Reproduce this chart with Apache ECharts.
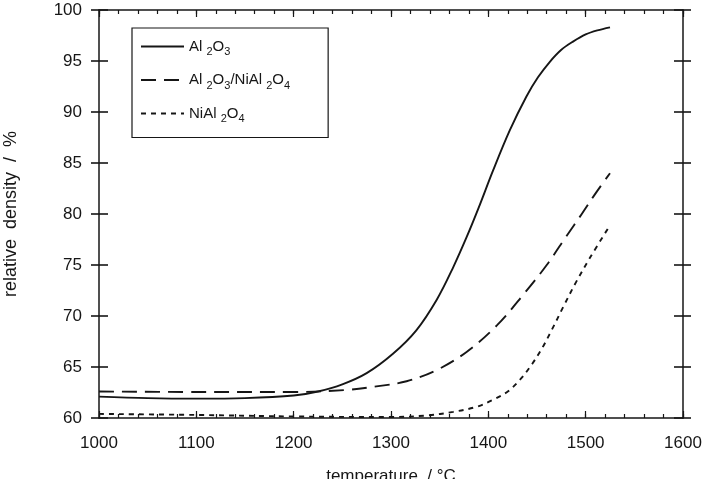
<!DOCTYPE html>
<html>
<head>
<meta charset="utf-8">
<script src="https://cdn.jsdelivr.net/npm/echarts@6/dist/echarts.min.js"></script>
<style>
  html, body { margin: 0; padding: 0; background: #fff; }
  #chart { width: 706px; height: 479px; }
</style>
</head>
<body>
<div id="chart"></div>
<script>
// values, [temperature °C, relative density %]
const al2o3 = [
  [1000, 62.1], [1050, 61.95], [1100, 61.9], [1150, 61.95], [1200, 62.2],
  [1225, 62.6], [1250, 63.3], [1275, 64.4], [1302, 66.3], [1326, 68.6],
  [1347, 71.6], [1364, 74.8], [1378, 77.8], [1390, 80.6], [1405, 84.3],
  [1422, 88.2], [1439, 91.5], [1451, 93.4], [1463, 94.9], [1475, 96.1],
  [1487, 96.9], [1500, 97.6], [1512, 98.0], [1525, 98.3]
]
const al2o3NiAl2o4 = [
  [1000, 62.6], [1100, 62.55], [1200, 62.55], [1254, 62.75], [1285, 63.1],
  [1316, 63.6], [1347, 64.7], [1378, 66.5], [1409, 69.1], [1436, 72.1],
  [1460, 75.0], [1480, 77.8], [1496, 80.0], [1510, 82.0], [1525, 84.0]
]
const niAl2o4 = [
  [1000, 60.4], [1100, 60.3], [1200, 60.15], [1300, 60.1], [1337, 60.25],
  [1364, 60.6], [1388, 61.1], [1405, 61.8], [1420, 62.6], [1433, 63.8],
  [1445, 65.3], [1455, 66.8], [1465, 68.6], [1477, 70.9], [1490, 73.3],
  [1505, 75.8], [1525, 78.9]
]
const seriesNames = ['Al2O3', 'Al2O3/NiAl2O4', 'NiAl2O4']
const legendLabels = {
  'Al2O3': 'Al {s|2}O{s|3}',
  'Al2O3/NiAl2O4': 'Al {s|2}O{s|3}/NiAl {s|2}O{s|4}',
  'NiAl2O4': 'NiAl {s|2}O{s|4}'
}

const ink = '#161616'
const font = 'Liberation Sans, Arial, sans-serif'

const chart = echarts.init(document.getElementById('chart'))

// bottom/top axes: one for the 100 ticks (with labels), one for the 20 ticks
function xAx(position, step, tickLen, showLabel) {
  return {
    type: 'value', position: position, min: 1000, max: 1600, interval: step,
    axisLine: { show: step === 100, onZero: false, lineStyle: { color: ink, width: 1.5 } },
    axisTick: { show: true, inside: true, length: tickLen, lineStyle: { color: ink, width: 1.2 } },
    splitLine: { show: false },
    axisLabel: {
      show: showLabel, color: ink, fontSize: 17, fontFamily: font, margin: 17,
      formatter: (v) => String(v)
    },
    name: showLabel ? 'temperature  / °C' : '',
    nameLocation: 'middle', nameGap: 50,
    nameTextStyle: { color: ink, fontSize: 17, fontFamily: font }
  }
}

function yAx(position, inside, showLabel) {
  return {
    type: 'value', position: position, min: 60, max: 100, interval: 5,
    axisLine: { show: inside, onZero: false, lineStyle: { color: ink, width: 1.5 } },
    axisTick: { show: true, inside: inside, length: inside ? 9 : 8, lineStyle: { color: ink, width: 1.6 } },
    splitLine: { show: false },
    axisLabel: { show: showLabel, color: ink, fontSize: 17, fontFamily: font, margin: 17 },
    name: showLabel ? 'relative  density  /  %' : '',
    nameLocation: 'middle', nameGap: 79,
    nameTextStyle: { color: ink, fontSize: 18, fontFamily: font }
  }
}

function lineSeries(name, data, type) {
  return {
    name: name, type: 'line', data: data, smooth: 0.35,
    showSymbol: false, symbol: 'none', xAxisIndex: 0, yAxisIndex: 0,
    lineStyle: { color: ink, width: 1.9, type: type },
    itemStyle: { color: ink },
    animation: false
  }
}

const option = {
  backgroundColor: '#fff',
  grid: { left: 99, right: 23, top: 10, bottom: 61, outerBoundsMode: 'none' },
  xAxis: [
    xAx('bottom', 100, 7, true), xAx('bottom', 20, 4, false),
    xAx('top', 100, 7, false), xAx('top', 20, 4, false)
  ],
  yAxis: [
    yAx('left', true, true), yAx('left', false, false),
    yAx('right', true, false), yAx('right', false, false)
  ],
  legend: {
    data: seriesNames,
    orient: 'vertical',
    left: 132, top: 28,
    padding: [11, 38, 13, 8],
    itemGap: 15,
    itemWidth: 43, itemHeight: 14,
    borderColor: ink, borderWidth: 1.2,
    itemStyle: { opacity: 0 },
    formatter: (n) => legendLabels[n],
    textStyle: {
      color: ink, fontSize: 15, fontFamily: font,
      rich: { s: { fontSize: 11, fontFamily: font, color: ink, padding: [11, 0, 0, 0] } }
    }
  },
  series: [
    lineSeries(seriesNames[0], al2o3, 'solid'),
    lineSeries(seriesNames[1], al2o3NiAl2o4, [15, 8]),
    lineSeries(seriesNames[2], niAl2o4, [5, 5])
  ]
}

chart.setOption(option)
</script>
</body>
</html>
